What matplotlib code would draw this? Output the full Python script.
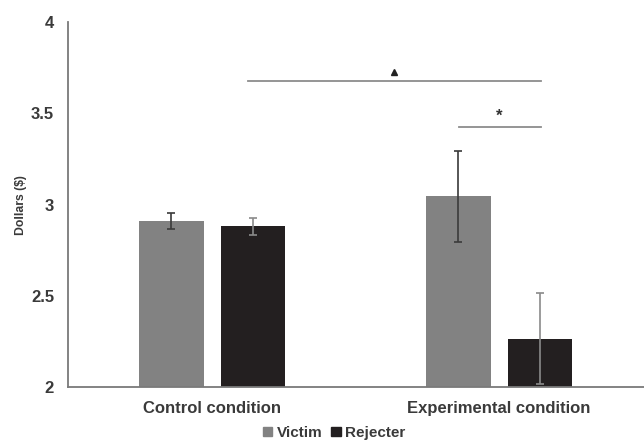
import matplotlib
matplotlib.use("Agg")
import matplotlib.pyplot as plt
from matplotlib.patches import Patch

plt.rcParams['font.family'] = ['Liberation Sans', 'DejaVu Sans']

categories = ["Control condition", "Experimental condition"]
series_names = ["Victim", "Rejecter"]
victim = [2.91, 3.045]
rejecter = [2.88, 2.265]
victim_err = [0.045, 0.25]
rejecter_err = [0.045, 0.25]
yticks = [2, 2.5, 3, 3.5, 4]
ytick_labels = ["2", "2.5", "3", "3.5", "4"]

fig = plt.figure(figsize=(6.44, 4.43), dpi=100)
ax = fig.add_axes([0.1056, 0.1264, 0.8944, 0.8236])

x = [0, 1]
w = 0.226
off = 0.1425
c_v = "#828282"
c_r = "#231f20"
ax.bar([i - off for i in x], victim, width=w, bottom=0, color=c_v, zorder=2)
ax.bar([i + off for i in x], rejecter, width=w, bottom=0, color=c_r, zorder=2)
ax.errorbar([i - off for i in x], victim, yerr=victim_err, fmt='none',
            ecolor="#3a3a3a", elinewidth=1.2, capsize=3, capthick=1.2, zorder=3)
ax.errorbar([i + off for i in x], rejecter, yerr=rejecter_err, fmt='none',
            ecolor="#8a8a8a", elinewidth=1.2, capsize=3, capthick=1.2, zorder=3)

# significance annotations
ax.plot([0.125, 1.146], [3.677, 3.677], color="#8c8c8c", lw=1.3, zorder=3)
ax.plot([0.634], [3.725], marker='^', color="#222222", markersize=4.5, zorder=3)
ax.plot([0.861, 1.146], [3.425, 3.425], color="#8c8c8c", lw=1.3, zorder=3)
ax.text(1.0, 3.445, "*", ha='center', va='bottom', fontsize=12, fontweight='bold', color="#333333")

ax.set_ylim(2, 4)
ax.set_xlim(-0.502, 1.505)
ax.set_yticks(yticks)
ax.set_yticklabels(ytick_labels)
ax.set_xticks(x)
ax.set_xticklabels(categories)
ax.tick_params(axis='both', length=0, labelsize=12, labelcolor="#3a3a3a")
for lab in ax.get_xticklabels() + ax.get_yticklabels():
    lab.set_fontweight('bold')
ax.tick_params(axis='y', pad=10)
ax.tick_params(axis='x', pad=10)
ax.set_ylabel("Dollars ($)", fontsize=8.8, fontweight='bold', color="#3a3a3a", labelpad=3)

for s in ['top', 'right']:
    ax.spines[s].set_visible(False)
for s in ['left', 'bottom']:
    ax.spines[s].set_color("#7a7a7a")
    ax.spines[s].set_linewidth(1.3)

handles = [Patch(color=c_v, label=series_names[0]), Patch(color=c_r, label=series_names[1])]
leg = fig.legend(handles=handles, loc='center', bbox_to_anchor=(334 / 644, 1 - 433 / 443),
                 ncol=2, frameon=False, handlelength=0.6, handleheight=0.6,
                 handletextpad=0.3, columnspacing=0.6,
                 prop={'weight': 'bold', 'size': 11})
for t in leg.get_texts():
    t.set_color("#3a3a3a")

fig.savefig("out.png", dpi=100)
